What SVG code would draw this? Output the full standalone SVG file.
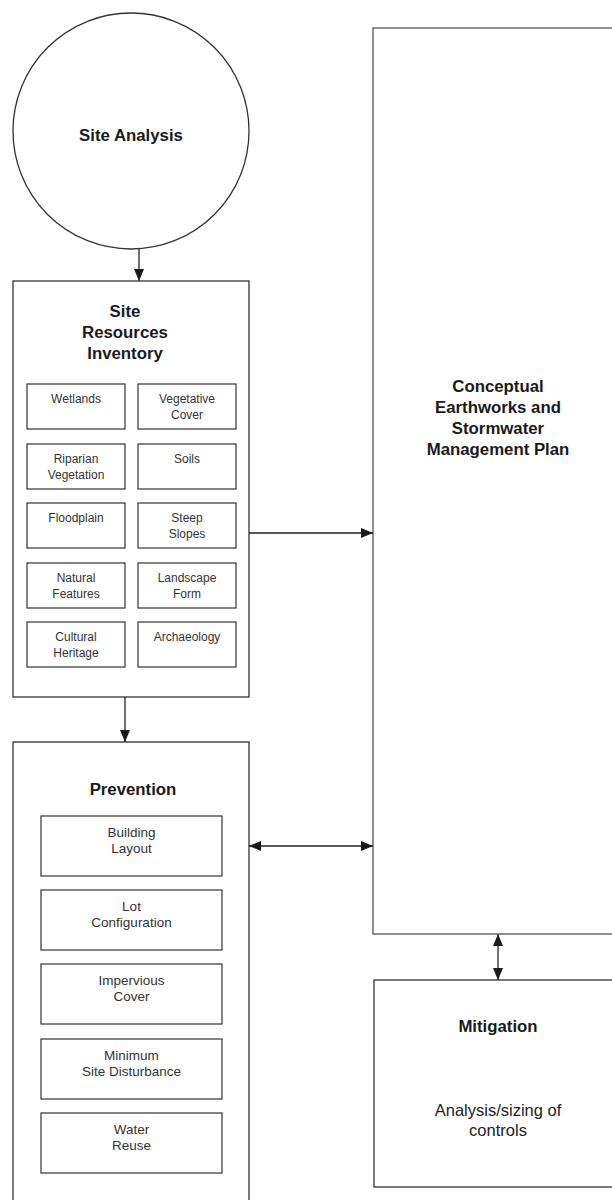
<svg xmlns="http://www.w3.org/2000/svg" width="612" height="1200" viewBox="0 0 612 1200">
<defs>
<marker id="ah" markerWidth="12" markerHeight="10" refX="12" refY="5" orient="auto-start-reverse" markerUnits="userSpaceOnUse">
<path d="M0,0 L12,5 L0,10 z" fill="#1a1a1a"/>
</marker>
<style>
.box{fill:#fff;stroke:#333;stroke-width:1.3}
.inner{fill:#fff;stroke:#333;stroke-width:1.2}
.big{fill:#fff;stroke:#555;stroke-width:1.3}
.title{font-family:"Liberation Sans",Arial,sans-serif;font-weight:bold;font-size:16.8px;fill:#1a1a1a;text-anchor:middle}
.sm{font-family:"Liberation Sans",Arial,sans-serif;font-size:12px;fill:#333;text-anchor:middle}
.md{font-family:"Liberation Sans",Arial,sans-serif;font-size:13.5px;fill:#333;text-anchor:middle}
.lg{font-family:"Liberation Sans",Arial,sans-serif;font-size:16.5px;fill:#222;text-anchor:middle}
.conn{fill:none;stroke:#222;stroke-width:1.3}
</style>
</defs>
<rect width="612" height="1200" fill="#fff"/>

<g id="site-analysis">
<circle class="box" cx="131" cy="131" r="118"/>
<text class="title" x="131" y="141">Site Analysis</text>
</g>

<g id="site-resources-inventory">
<rect class="box" x="13" y="281" width="236" height="416"/>
<text class="title" x="125" y="317">Site</text>
<text class="title" x="125" y="338">Resources</text>
<text class="title" x="125" y="359">Inventory</text>
</g>

<g id="wetlands"><rect class="inner" x="27" y="384" width="98" height="45"/><text class="sm" x="76" y="403">Wetlands</text></g>
<g id="vegetative-cover"><rect class="inner" x="138" y="384" width="98" height="45"/><text class="sm" x="187" y="403">Vegetative</text><text class="sm" x="187" y="418.5">Cover</text></g>
<g id="riparian-vegetation"><rect class="inner" x="27" y="444" width="98" height="45"/><text class="sm" x="76" y="463">Riparian</text><text class="sm" x="76" y="478.5">Vegetation</text></g>
<g id="soils"><rect class="inner" x="138" y="444" width="98" height="45"/><text class="sm" x="187" y="463">Soils</text></g>
<g id="floodplain"><rect class="inner" x="27" y="503" width="98" height="45"/><text class="sm" x="76" y="522">Floodplain</text></g>
<g id="steep-slopes"><rect class="inner" x="138" y="503" width="98" height="45"/><text class="sm" x="187" y="522">Steep</text><text class="sm" x="187" y="537.5">Slopes</text></g>
<g id="natural-features"><rect class="inner" x="27" y="563" width="98" height="45"/><text class="sm" x="76" y="582">Natural</text><text class="sm" x="76" y="597.5">Features</text></g>
<g id="landscape-form"><rect class="inner" x="138" y="563" width="98" height="45"/><text class="sm" x="187" y="582">Landscape</text><text class="sm" x="187" y="597.5">Form</text></g>
<g id="cultural-heritage"><rect class="inner" x="27" y="622" width="98" height="45"/><text class="sm" x="76" y="641">Cultural</text><text class="sm" x="76" y="656.5">Heritage</text></g>
<g id="archaeology"><rect class="inner" x="138" y="622" width="98" height="45"/><text class="sm" x="187" y="641">Archaeology</text></g>

<g id="prevention">
<rect class="box" x="13" y="742" width="236" height="470"/>
<text class="title" x="133" y="795">Prevention</text>
</g>
<g id="building-layout"><rect class="inner" x="41" y="816" width="181" height="60"/><text class="md" x="131.5" y="836.5">Building</text><text class="md" x="131.5" y="853">Layout</text></g>
<g id="lot-configuration"><rect class="inner" x="41" y="890" width="181" height="60"/><text class="md" x="131.5" y="910.5">Lot</text><text class="md" x="131.5" y="927">Configuration</text></g>
<g id="impervious-cover"><rect class="inner" x="41" y="964" width="181" height="60"/><text class="md" x="131.5" y="984.5">Impervious</text><text class="md" x="131.5" y="1001">Cover</text></g>
<g id="minimum-site-disturbance"><rect class="inner" x="41" y="1039" width="181" height="60"/><text class="md" x="131.5" y="1059.5">Minimum</text><text class="md" x="131.5" y="1076">Site Disturbance</text></g>
<g id="water-reuse"><rect class="inner" x="41" y="1113" width="181" height="60"/><text class="md" x="131.5" y="1133.5">Water</text><text class="md" x="131.5" y="1150">Reuse</text></g>

<g id="conceptual-plan">
<rect class="big" x="373" y="28" width="260" height="906"/>
<text class="title" x="498" y="392">Conceptual</text>
<text class="title" x="498" y="413">Earthworks and</text>
<text class="title" x="498" y="434">Stormwater</text>
<text class="title" x="498" y="455">Management Plan</text>
</g>

<g id="mitigation">
<rect class="box" x="374" y="980" width="260" height="207"/>
<text class="title" x="498" y="1032">Mitigation</text>
<text class="lg" x="498" y="1116">Analysis/sizing of</text>
<text class="lg" x="498" y="1136">controls</text>
</g>

<g id="connectors">
<line class="conn" x1="139" y1="249" x2="139" y2="281" marker-end="url(#ah)"/>
<line class="conn" x1="125" y1="697" x2="125" y2="742" marker-end="url(#ah)"/>
<line class="conn" x1="249" y1="533" x2="373" y2="533" marker-end="url(#ah)"/>
<line class="conn" x1="249" y1="846" x2="373" y2="846" marker-start="url(#ah)" marker-end="url(#ah)"/>
<line class="conn" x1="498" y1="934" x2="498" y2="980" marker-start="url(#ah)" marker-end="url(#ah)"/>
</g>
</svg>
